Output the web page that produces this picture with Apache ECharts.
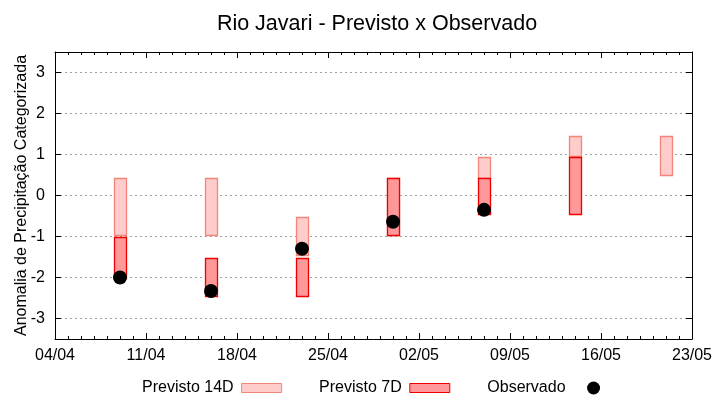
<!DOCTYPE html>
<html>
<head>
<meta charset="utf-8">
<script src="https://cdn.jsdelivr.net/npm/echarts@6/dist/echarts.min.js"></script>
<style>html,body{margin:0;padding:0;background:#fff}#c{width:720px;height:400px}</style>
</head>
<body>
<div id="c"></div>
<script>
// ---- data ----
const baseDate = '04/04';              // first x tick (dd/mm)
const xTickDates = ['04/04','11/04','18/04','25/04','02/05','09/05','16/05','23/05'];
const forecastDates = ['09/04','16/04','23/04','30/04','07/05','14/05','21/05'];
const p14Top    = [0.43, 0.43, -0.52, 0.43, 0.95, 1.44, 1.44];
const p14Bottom = [-0.96, -0.96, -1.44, -0.96, 0.43, 0.95, 0.50];
const p7Top     = [-1.00, -1.52, -1.52, 0.43, 0.43, 0.95, null];
const p7Bottom  = [-2.00, -2.44, -2.44, -0.96, -0.45, -0.45, null];
const observed  = [-2.00, -2.33, -1.30, -0.64, -0.35, null, null];
const yTicks = [-3, -2, -1, 0, 1, 2, 3];

const YEAR = 2023;
function toDay(s) {
  const [d, m] = s.split('/').map(Number);
  const [bd, bm] = baseDate.split('/').map(Number);
  return (Date.UTC(YEAR, m - 1, d) - Date.UTC(YEAR, bm - 1, bd)) / 86400000;
}
function fromDay(v) {
  const [bd, bm] = baseDate.split('/').map(Number);
  const dt = new Date(Date.UTC(YEAR, bm - 1, bd) + v * 86400000);
  return String(dt.getUTCDate()).padStart(2, '0') + '/' + String(dt.getUTCMonth() + 1).padStart(2, '0');
}
const xMax = toDay(xTickDates[xTickDates.length - 1]);

function rangeData(tops, bots) {
  const out = [];
  forecastDates.forEach((d, i) => {
    if (tops[i] != null && bots[i] != null) out.push([toDay(d), tops[i], bots[i]]);
  });
  return out;
}
const obsData = [];
forecastDates.forEach((d, i) => { if (observed[i] != null) obsData.push([toDay(d), observed[i]]); });

const C14 = { fill: '#ffcccc', stroke: '#f4857a' };
const C7 = { fill: '#ff9999', stroke: '#ee0000' };

function rangeRender(col) {
  return function (params, api) {
    const x = api.value(0), top = api.value(1), bot = api.value(2);
    const p1 = api.coord([x - 0.45, top]);
    const p2 = api.coord([x + 0.45, bot]);
    return {
      type: 'rect',
      shape: { x: Math.round(p1[0]) + 0.5, y: Math.round(p1[1]) + 0.5, width: Math.round(p2[0] - p1[0]), height: Math.round(p2[1] - p1[1]) },
      style: { fill: col.fill, stroke: col.stroke, lineWidth: 1.3 }
    };
  };
}

const FONT = 'Liberation Sans, Arial, sans-serif';
const chart = echarts.init(document.getElementById('c'), null, { renderer: 'canvas' });
const tickCommon = { show: true, inside: true, length: 6, lineStyle: { color: '#000', width: 1 } };
chart.setOption({
  animation: false,
  backgroundColor: '#fff',
  title: {
    text: 'Rio Javari - Previsto x Observado',
    left: 372, top: 8, textAlign: 'center',
    textStyle: { fontFamily: FONT, fontSize: 21.5, fontWeight: 'normal', color: '#000' }
  },
  grid: { left: 55, right: 28, top: 52, bottom: 61, containLabel: false, outerBoundsMode: 'none' },
  legend: {
    left: 137, top: 375, itemGap: 37, itemWidth: 40, itemHeight: 13, align: 'right',
    textStyle: { fontFamily: FONT, fontSize: 16, color: '#000', padding: [0, 3, 0, 0] },
    data: [
      { name: 'Previsto 14D', icon: 'path://M0,0H40V9H0Z', itemStyle: { color: C14.fill, borderColor: C14.stroke, borderWidth: 1, opacity: 1 } },
      { name: 'Previsto 7D', icon: 'path://M0,0H40V9H0Z', itemStyle: { color: C7.fill, borderColor: C7.stroke, borderWidth: 1, opacity: 1 } },
      { name: 'Observado', icon: 'circle', itemStyle: { color: '#000', opacity: 1 } }
    ]
  },
  xAxis: [
    {
      type: 'value', position: 'bottom', min: 0, max: xMax, interval: 7,
      axisLine: { show: true, onZero: false, lineStyle: { color: '#000', width: 1 } },
      axisTick: tickCommon,
      minorTick: { show: true, splitNumber: 7, length: 3, lineStyle: { color: '#000' } },
      axisLabel: { formatter: v => fromDay(v), fontFamily: FONT, fontSize: 16, color: '#000', margin: 9 },
      splitLine: { show: false }
    },
    {
      type: 'value', position: 'top', min: 0, max: xMax, interval: 7,
      axisLine: { show: true, onZero: false, lineStyle: { color: '#000', width: 1 } },
      axisTick: tickCommon,
      minorTick: { show: true, splitNumber: 7, length: 3, lineStyle: { color: '#000' } },
      axisLabel: { show: false },
      splitLine: { show: false }
    }
  ],
  yAxis: [
    {
      type: 'value', position: 'left', min: -3.5, max: 3.5,
      name: 'Anomalia de Precipitação Categorizada', nameLocation: 'middle', nameGap: 25,
      nameMoveOverlap: false,
      nameTextStyle: { fontFamily: FONT, fontSize: 16, color: '#000' },
      axisLine: { show: true, onZero: false, lineStyle: { color: '#000', width: 1 } },
      axisTick: Object.assign({}, tickCommon, { customValues: yTicks }),
      axisLabel: { customValues: yTicks, fontFamily: FONT, fontSize: 16, color: '#000', margin: 10 },
      splitLine: { show: true, lineStyle: { color: '#a0a0a0', type: [2, 3], width: 1 } }
    },
    {
      type: 'value', position: 'right', min: -3.5, max: 3.5,
      axisLine: { show: true, onZero: false, lineStyle: { color: '#000', width: 1 } },
      axisTick: Object.assign({}, tickCommon, { customValues: yTicks }),
      axisLabel: { show: false },
      splitLine: { show: false }
    }
  ],
  series: [
    {
      name: 'Previsto 14D', type: 'custom', xAxisIndex: 0, yAxisIndex: 0,
      itemStyle: { color: C14.fill, borderColor: C14.stroke },
      encode: { x: 0, y: [1, 2] },
      renderItem: rangeRender(C14), data: rangeData(p14Top, p14Bottom), z: 2
    },
    {
      name: 'Previsto 7D', type: 'custom', xAxisIndex: 0, yAxisIndex: 0,
      itemStyle: { color: C7.fill, borderColor: C7.stroke },
      encode: { x: 0, y: [1, 2] },
      renderItem: rangeRender(C7), data: rangeData(p7Top, p7Bottom), z: 3
    },
    {
      name: 'Observado', type: 'scatter', xAxisIndex: 0, yAxisIndex: 0,
      symbol: 'circle', symbolSize: 14, itemStyle: { color: '#000', opacity: 1 },
      data: obsData, z: 4
    }
  ]
});
</script>
</body>
</html>
